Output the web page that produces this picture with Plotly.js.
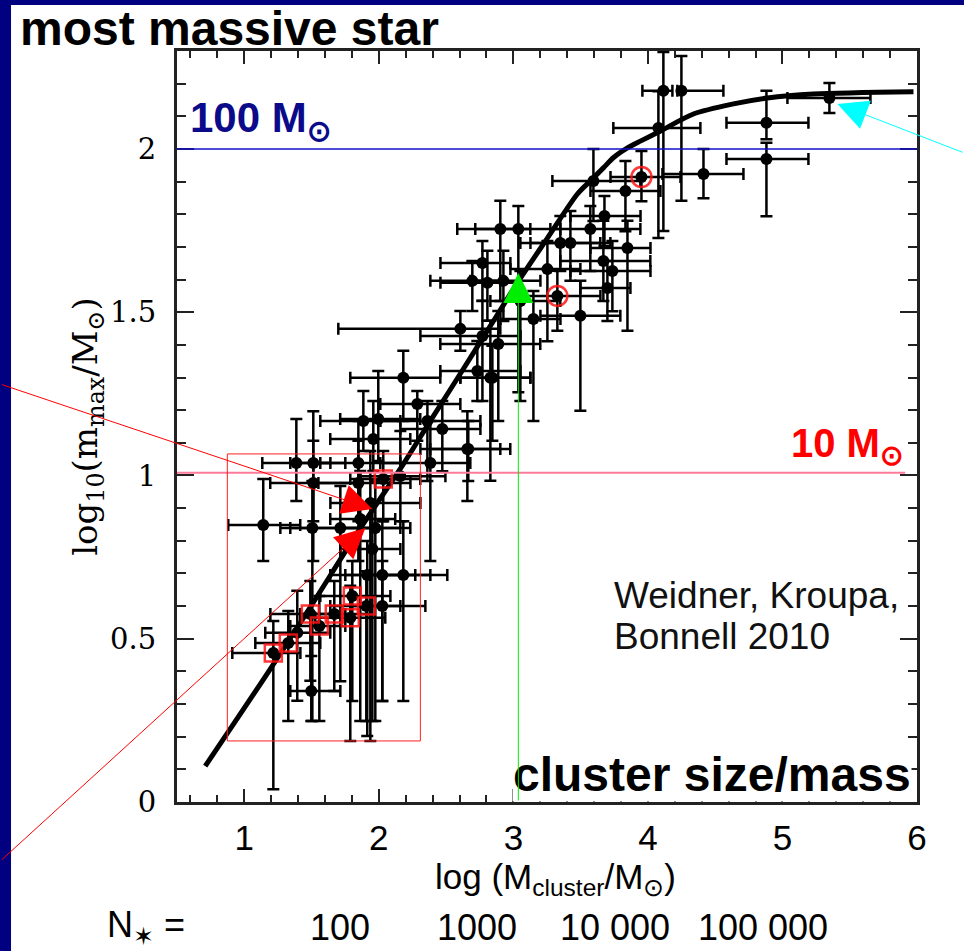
<!DOCTYPE html>
<html>
<head>
<meta charset="utf-8">
<script src="https://cdn.plot.ly/plotly-3.0.1.min.js"></script>
<style>
  html, body { margin: 0; padding: 0; background: #ffffff; }
  #chart { width: 964px; height: 951px; }
</style>
</head>
<body>
<div id="chart"></div>
<script>
// ---- data ----
// clusters: log10(M_cluster/Msun) and log10(m_max/Msun) with asymmetric errors
const clusterLogM = [1.141,1.387,1.513,1.513,1.506,1.848,1.848,1.714,1.862,1.974,1.937,1.952,1.914,2.026,2.182,2.026,2.383,2.160,1.394,1.498,2.658,
  2.033,1.803,1.907,1.491,1.669,1.788,1.558,1.327,1.216,
  2.182,2.732,2.844,2.286,1.885,1.996,2.361,2.472,1.959,2.665,2.606,2.770,2.888,2.770,2.695,2.807,2.926,2.903,3.037,
  3.349,3.424,3.572,3.848,3.669,3.736,3.699,3.327,3.149,3.498,2.829,3.253,3.052,
  4.115,4.249,4.078,4.881,4.881,5.349,4.413,3.952,3.595,3.833,3.677];
const logMmax = [0.848,1.038,1.038,0.977,0.839,1.038,0.977,0.839,0.867,0.839,0.916,0.775,0.695,0.695,0.695,0.600,1.038,0.998,0.518,0.340,1.081,
  0.989,0.631,0.600,0.576,0.576,0.564,0.539,0.487,0.456,
  1.299,1.320,1.299,1.219,1.167,1.173,1.167,1.142,1.112,1.081,1.449,1.427,1.403,1.651,1.596,1.590,1.596,1.755,1.755,
  1.712,1.712,1.755,1.697,1.657,1.626,1.574,1.550,1.479,1.489,1.299,1.632,1.534,
  2.178,2.178,2.064,2.080,1.969,2.156,1.923,1.914,1.902,1.871,1.795];
const xErrMinus = [0.26,0.253,0.171,0.32,0.238,0.283,0.297,0.372,0.223,0.26,0.297,0.238,0.275,0.275,0.245,0.238,0.372,0.297,0.238,0.156,0.349,
  0.245,0.238,0.268,0.297,0.253,0.26,0.216,0.245,0.305,
  0.394,0.275,0.238,0.275,0.32,0.283,0.349,0.312,0.32,0.283,0.907,0.461,0.431,0.312,0.312,0.349,0.245,0.32,0.32,
  0.297,0.297,0.297,0.275,0.32,0.312,0.201,0.275,0.245,0.297,0.223,0.275,0.223,
  0.156,0.03,0.335,0.297,0.297,0.312,0.305,0.23,0.305,0.26,0.253];
const xErrPlus = [0.275,0.253,0.238,0.349,0.654,0.312,0.387,0.26,0.26,0.26,0.372,0.208,0.357,0.357,0.327,0.32,0.297,0.335,0.245,0.216,0.245,
  0.275,0.283,0.253,0.26,0.268,0.26,0.193,0.238,0.201,
  0.275,0.32,0.283,0.32,0.275,0.312,0.394,0.283,0.275,0.312,0.297,0.283,0.312,0.208,0.208,0.245,0.275,0.223,0.312,
  0.297,0.297,0.372,0.171,0.349,0.283,0.171,0.32,0.201,0.297,0.297,0.245,0.297,
  0.067,0.312,0.312,0.312,0.312,0.305,0.297,0.29,0.349,0.26,0.268];
const yErrMinus = [0.110,0.116,0.178,0.239,0.591,0.178,0.239,0.469,0.619,0.591,0.729,0.527,0.493,0.386,0.386,0.291,0.30,0.138,0.208,0.092,0.159,
  0.129,0.322,0.352,0.205,0.236,0.377,0.291,0.239,0.417,
  0.132,0.092,0.193,0.113,0.092,0.129,0.184,0.129,0.098,0.098,0.067,0.199,0.236,0.116,0.092,0.116,0.123,0.221,0.5,
  0.086,0.116,0.129,0.254,0.123,0.123,0.101,0.107,0.312,0.291,0.315,0.221,0.306,
  0.429,0.337,0.337,0.05,0.175,0.046,0.074,0.074,0.123,0.123,0.092];
const yErrPlus = [0.141,0.135,0.159,0.129,0.144,0.129,0.129,0.129,0.147,0.144,0.159,0.147,0.104,0.165,0.165,0.138,0.129,0.138,0.129,0.107,0.116,
  0.086,0.107,0.107,0.101,0.101,0.098,0.092,0.098,0.098,
  0.083,0.092,0.098,0.04,0.092,0.147,0.061,0.086,0.116,0.086,0.055,0.107,0.101,0.067,0.061,0.098,0.092,0.086,0.07,
  0.083,0.098,0.07,0.083,0.123,0.092,0.083,0.077,0.086,0.107,0.175,0.086,0.092,
  0.119,0.107,0.113,0.098,0.05,0.046,0.077,0.08,0.098,0.092,0.061];
// clusters highlighted in red
const redSquareIdx = [21,22,23,24,25,26,27,28,29];
const redCircleIdx = [56,69];

// m_max - M_ecl relation (thick curve)
const relLogM = [0.71,1.193,1.491,1.84,2.182,2.383,2.628,2.829,3.03,3.253,3.476,3.572,3.669,3.743,3.848,3.944,4.093,4.338,4.636,4.888,5.23,5.974];
const relLogMmax = [0.110,0.407,0.597,0.824,1.035,1.167,1.326,1.458,1.590,1.727,1.862,1.902,1.942,1.973,2.003,2.024,2.055,2.107,2.138,2.156,2.168,2.175];

// axis ticks
const xTickVals = [1,2,3,4,5,6];
const xTickText = ['1','2','3','4','5','6'];
const yTickVals = [0,0.5,1,1.5,2];
const yTickText = ['0','0.5','1','1.5','2'];

// reference levels
const level100 = 2.0;
const level10 = 1.008;

// number of stars row
const nStarLabels = ['100','1000','10 000','100 000'];

// ---- drawing ----
const SANS = '"Liberation Sans", Arial, sans-serif';
const SERIF = '"DejaVu Serif", serif';
const AX = '#222222';

const pick = (arr, idx) => idx.map(i => arr[i]);

const traces = [
  {
    type: 'scatter', mode: 'markers',
    x: clusterLogM, y: logMmax,
    marker: {color: '#000000', size: 12},
    error_x: {type: 'data', symmetric: false, array: xErrPlus, arrayminus: xErrMinus, color: '#000', thickness: 2.5, width: 6},
    error_y: {type: 'data', symmetric: false, array: yErrPlus, arrayminus: yErrMinus, color: '#000', thickness: 2.5, width: 6},
    hoverinfo: 'skip', showlegend: false
  },
  {
    type: 'scatter', mode: 'lines',
    x: relLogM, y: relLogMmax,
    line: {color: '#000000', width: 5, shape: 'spline', smoothing: 0.8},
    hoverinfo: 'skip', showlegend: false
  },
  {
    type: 'scatter', mode: 'markers',
    x: pick(clusterLogM, redSquareIdx), y: pick(logMmax, redSquareIdx),
    marker: {symbol: 'square-open', size: 17, color: 'rgba(255,20,20,0.85)', line: {width: 2.5}},
    hoverinfo: 'skip', showlegend: false
  },
  {
    type: 'scatter', mode: 'markers',
    x: pick(clusterLogM, redCircleIdx), y: pick(logMmax, redCircleIdx),
    marker: {symbol: 'circle-open', size: 20, color: 'rgba(255,20,20,0.85)', line: {width: 2.5}},
    hoverinfo: 'skip', showlegend: false
  },
  // carrier for the mirrored (top / right) tick axes, draws nothing
  {
    type: 'scatter', mode: 'none', x: relLogM, y: relLogMmax, xaxis: 'x2', yaxis: 'y2',
    hoverinfo: 'skip', showlegend: false
  }
];

const annotations = [
  // level labels
  {xref: 'x', yref: 'y', x: 0.58, y: level100, xanchor: 'left', yanchor: 'bottom', showarrow: false,
   text: '<b>100 M<sub>⊙</sub></b>', font: {family: SANS, size: 42, color: '#0a0a8a'}},
  {xref: 'x', yref: 'y', x: 5.914, y: level10, xanchor: 'right', yanchor: 'bottom', showarrow: false,
   text: '<b>10 M<sub>⊙</sub></b>', font: {family: SANS, size: 40, color: '#ff0000'}},
  // citation
  {xref: 'x', yref: 'y', x: 3.73, y: 0.631, xanchor: 'left', yanchor: 'middle', showarrow: false,
   text: 'Weidner, Kroupa,', font: {family: SANS, size: 37, color: '#111'}},
  {xref: 'x', yref: 'y', x: 3.73, y: 0.508, xanchor: 'left', yanchor: 'middle', showarrow: false,
   text: 'Bonnell 2010', font: {family: SANS, size: 37, color: '#111'}},
  // cluster size/mass
  {xref: 'paper', yref: 'paper', x: 0.9932, y: 0.036, xanchor: 'right', yanchor: 'middle', showarrow: false,
   text: '<b>cluster size/mass</b>', bgcolor: '#ffffff', borderpad: 0,
   font: {family: SANS, size: 48, color: '#000'}},
  // x-axis title (placed under the tick labels)
  {xref: 'paper', yref: 'paper', x: (555 - 177) / 740, y: (802 - 879) / 751, xanchor: 'center', yanchor: 'middle',
   showarrow: false, text: 'log (M<sub>cluster</sub>/M<sub>⊙</sub>)', font: {family: SANS, size: 35, color: '#000'}},
  // N* row
  {xref: 'paper', yref: 'paper', x: -0.0419, y: -0.1665, xanchor: 'center', yanchor: 'middle', showarrow: false,
   text: 'N<sub>✶</sub> =', font: {family: SANS, size: 36, color: '#000'}},
  // arrows
  {xref: 'x', yref: 'y', x: 3.037, y: 1.62, axref: 'x', ayref: 'y', ax: 3.037, ay: 0.0, text: '',
   showarrow: true, arrowhead: 2, arrowsize: 6, arrowwidth: 1, arrowcolor: '#00ee00', standoff: 0},
  {xref: 'x', yref: 'y', x: 1.952, y: 0.897, ax: -372, ay: -125, text: '',
   showarrow: true, arrowhead: 2, arrowsize: 6, arrowwidth: 1, arrowcolor: '#ff0000', standoff: 0},
  {xref: 'x', yref: 'y', x: 1.900, y: 0.839, ax: -365, ay: 333, text: '',
   showarrow: true, arrowhead: 2, arrowsize: 6, arrowwidth: 1, arrowcolor: '#ff0000', standoff: 0},
  {xref: 'x', yref: 'y', x: 5.409, y: 2.138, ax: 140, ay: 49, text: '',
   showarrow: true, arrowhead: 2, arrowsize: 6, arrowwidth: 1, arrowcolor: '#00ffff', standoff: 0}
];
const nStarX = [0.2203, 0.4054, 0.5919, 0.7919];
nStarLabels.forEach((t, i) => annotations.push({
  xref: 'paper', yref: 'paper', x: nStarX[i], y: -0.1665, xanchor: 'center', yanchor: 'middle',
  showarrow: false, text: t, font: {family: SANS, size: 36, color: '#000'}
}));

const shapes = [
  // slide frame (navy)
  {type: 'rect', xref: 'paper', yref: 'paper', x0: -0.2392, x1: -0.2243, y0: -0.1984, y1: 1.0679,
   fillcolor: '#000080', line: {width: 0}},
  {type: 'rect', xref: 'paper', yref: 'paper', x0: -0.2392, x1: 1.0635, y0: 1.0613, y1: 1.0679,
   fillcolor: '#000080', line: {width: 0}},
  // reference levels
  {type: 'line', xref: 'paper', yref: 'y', x0: 0, x1: 1, y0: level100, y1: level100,
   line: {color: '#1010c8', width: 1.5}},
  {type: 'line', xref: 'paper', yref: 'y', x0: 0, x1: 0.984, y0: level10, y1: level10,
   line: {color: '#ff7a98', width: 2}},
  // red selection box
  {type: 'rect', xref: 'x', yref: 'y', x0: 0.874, x1: 2.309, y0: 0.187, y1: 1.066,
   line: {color: '#ff2020', width: 1}, fillcolor: 'rgba(0,0,0,0)'}
];

const tickCommon = {
  showgrid: false, zeroline: false, ticks: 'inside', tickwidth: 2, tickcolor: AX
};

const layout = {
  width: 964, height: 951,
  margin: {l: 177, r: 47, t: 51, b: 149},
  paper_bgcolor: '#ffffff', plot_bgcolor: '#ffffff',
  showlegend: false, hovermode: false,
  title: {text: '<b>most massive star</b>', xref: 'container', yref: 'container',
          x: 20/964, xanchor: 'left', y: 1 - 28/951, yanchor: 'middle',
          font: {family: SANS, size: 48, color: '#000'}},
  xaxis: Object.assign({}, tickCommon, {
    range: [0.5, 6.0],
    showline: true, linecolor: AX, linewidth: 3, mirror: true,
    ticklen: 13,
    tickvals: xTickVals, ticktext: xTickText, ticklabelstandoff: 3,
    tickfont: {family: SANS, size: 35, color: '#000'},
    minor: {dtick: 0.2, tick0: 0, ticks: 'inside', ticklen: 7, tickwidth: 2, tickcolor: AX, showgrid: false}
  }),
  xaxis2: Object.assign({}, tickCommon, {
    overlaying: 'x', side: 'top', matches: 'x', range: [0.5, 6.0],
    showline: false, showticklabels: false, ticklen: 13, tickvals: xTickVals,
    minor: {dtick: 0.2, tick0: 0, ticks: 'inside', ticklen: 7, tickwidth: 2, tickcolor: AX, showgrid: false}
  }),
  yaxis: Object.assign({}, tickCommon, {
    range: [0, 2.3],
    showline: true, linecolor: AX, linewidth: 3, mirror: true,
    ticklen: 17,
    tickvals: yTickVals, ticktext: yTickText, ticklabelstandoff: 12,
    tickfont: {family: SERIF, size: 29, color: '#000'},
    minor: {dtick: 0.1, tick0: 0, ticks: 'inside', ticklen: 9, tickwidth: 2, tickcolor: AX, showgrid: false},
    title: {text: 'log<sub>10</sub>(m<sub>max</sub>/M<sub>⊙</sub>)', standoff: 2,
            font: {family: SERIF, size: 34, color: '#000'}}
  }),
  yaxis2: Object.assign({}, tickCommon, {
    overlaying: 'y', side: 'right', matches: 'y', range: [0, 2.3],
    showline: false, showticklabels: false, ticklen: 17, tickvals: yTickVals,
    minor: {dtick: 0.1, tick0: 0, ticks: 'inside', ticklen: 9, tickwidth: 2, tickcolor: AX, showgrid: false}
  }),
  shapes: shapes,
  annotations: annotations
};

Plotly.newPlot('chart', traces, layout, {displayModeBar: false, staticPlot: true});
</script>
</body>
</html>
